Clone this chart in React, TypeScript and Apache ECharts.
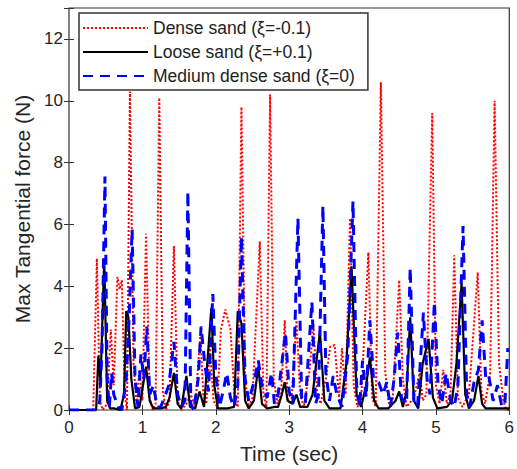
import React, { useEffect, useRef } from "react";
import * as echarts from "echarts";

const seriesNames = ["Dense sand (ξ=-0.1)", "Loose sand (ξ=+0.1)", "Medium dense sand (ξ=0)"];
const yTicks = [0, 2, 4, 6, 8, 10, 12];

const denseT = [0, 0.33, 0.38, 0.42, 0.46, 0.52, 0.57, 0.61, 0.66, 0.69, 0.72, 0.76, 0.79, 0.83, 0.88, 0.92, 0.96, 1.0, 1.05, 1.1, 1.14, 1.18, 1.23, 1.28, 1.32, 1.37, 1.43, 1.48, 1.53, 1.6, 1.66, 1.72, 1.79, 1.83, 1.87, 1.92, 1.97, 2.02, 2.07, 2.13, 2.2, 2.26, 2.3, 2.35, 2.4, 2.45, 2.5, 2.6, 2.65, 2.69, 2.74, 2.79, 2.84, 2.89, 2.94, 2.98, 3.03, 3.1, 3.15, 3.2, 3.28, 3.33, 3.38, 3.43, 3.5, 3.56, 3.62, 3.68, 3.72, 3.77, 3.83, 3.88, 3.93, 3.98, 4.08, 4.13, 4.18, 4.25, 4.31, 4.36, 4.41, 4.5, 4.55, 4.6, 4.7, 4.78, 4.82, 4.87, 4.95, 5.0, 5.05, 5.1, 5.15, 5.2, 5.25, 5.3, 5.36, 5.45, 5.57, 5.62, 5.67, 5.74, 5.8, 5.86, 5.92, 5.96, 6.0];
const denseF = [0, 0, 4.9, 0.3, 0, 0.2, 2.6, 0.8, 4.3, 3.9, 4.2, 0.5, 0, 10.3, 1.5, 0.2, 1.3, 0.3, 5.7, 0.4, 0, 0.2, 10.1, 0.6, 0, 0.3, 5.3, 0.3, 0, 0.2, 0.5, 0.1, 2.45, 0.5, 0.2, 2.0, 0.3, 0.1, 2.6, 3.25, 2.6, 0.3, 0.1, 9.8, 1.0, 0.1, 0.4, 5.45, 0.5, 0.1, 10.2, 1.0, 0.2, 0.5, 2.9, 0.3, 0.2, 2.9, 0.5, 0.1, 1.3, 2.8, 0.6, 0.2, 1.0, 2.05, 2.1, 0.4, 2.0, 0.5, 6.2, 0.8, 0.1, 0.3, 5.1, 0.4, 0.1, 10.6, 1.2, 0.2, 0.3, 4.2, 1.0, 0.1, 0.4, 1.2, 0.3, 0.5, 9.6, 0.8, 0.2, 1.3, 0.2, 0.5, 5.0, 0.4, 0.1, 0.5, 4.45, 0.6, 0.2, 1.2, 10.0, 1.5, 0.3, 0, 0];

const looseT = [0, 0.37, 0.4, 0.43, 0.48, 0.52, 0.56, 0.62, 0.7, 0.75, 0.78, 0.81, 0.85, 0.9, 0.96, 1.05, 1.1, 1.15, 1.25, 1.32, 1.37, 1.43, 1.48, 1.53, 1.6, 1.65, 1.72, 1.78, 1.84, 1.9, 1.94, 1.98, 2.03, 2.15, 2.25, 2.3, 2.35, 2.4, 2.45, 2.52, 2.58, 2.63, 2.7, 2.8, 2.85, 2.9, 2.94, 2.98, 3.05, 3.1, 3.15, 3.25, 3.32, 3.42, 3.48, 3.55, 3.7, 3.78, 3.85, 3.92, 3.98, 4.05, 4.1, 4.16, 4.22, 4.35, 4.45, 4.5, 4.55, 4.6, 4.65, 4.7, 4.76, 4.82, 4.9, 4.96, 5.02, 5.15, 5.22, 5.28, 5.35, 5.4, 5.45, 5.52, 5.58, 5.63, 5.68, 6.0];
const looseF = [0, 0, 1.75, 0.9, 4.9, 0.3, 0.05, 0.05, 0, 0.5, 3.2, 3.0, 1.0, 0.05, 0.1, 1.4, 0.3, 0.05, 0.05, 0.1, 0.4, 1.2, 0.2, 0.05, 1.1, 0.1, 0.05, 0.6, 0.1, 2.0, 3.3, 0.8, 0.05, 0.05, 0.1, 3.2, 2.8, 0.3, 0.05, 0.3, 1.4, 0.2, 0.05, 0.1, 0.1, 0.5, 0.9, 0.3, 0.2, 0.5, 0.1, 0.1, 0.5, 2.55, 0.3, 0.05, 0.05, 1.5, 4.65, 0.5, 0.1, 0.8, 1.7, 0.3, 0.05, 0.05, 0.3, 0.6, 0.1, 0.6, 3.0, 0.3, 0.05, 1.5, 2.3, 0.4, 0.05, 0.1, 0.3, 1.5, 4.1, 0.5, 0.05, 0.3, 1.1, 0.2, 0.05, 0.05];

const mediumT = [0, 0.38, 0.42, 0.45, 0.49, 0.52, 0.55, 0.58, 0.61, 0.64, 0.67, 0.72, 0.78, 0.82, 0.86, 0.9, 0.94, 0.98, 1.02, 1.06, 1.1, 1.15, 1.2, 1.25, 1.3, 1.36, 1.43, 1.48, 1.53, 1.58, 1.62, 1.66, 1.7, 1.76, 1.8, 1.85, 1.9, 1.96, 2.0, 2.05, 2.1, 2.15, 2.2, 2.25, 2.3, 2.35, 2.4, 2.45, 2.52, 2.58, 2.63, 2.7, 2.76, 2.8, 2.85, 2.9, 2.95, 3.0, 3.05, 3.12, 3.17, 3.22, 3.31, 3.36, 3.4, 3.46, 3.5, 3.55, 3.6, 3.65, 3.72, 3.8, 3.87, 3.92, 3.96, 4.0, 4.05, 4.1, 4.15, 4.22, 4.28, 4.33, 4.38, 4.43, 4.48, 4.53, 4.6, 4.65, 4.7, 4.75, 4.83, 4.88, 4.92, 4.98, 5.03, 5.08, 5.14, 5.2, 5.25, 5.3, 5.37, 5.42, 5.46, 5.52, 5.58, 5.63, 5.68, 5.72, 5.78, 5.84, 5.9, 5.94, 5.98];
const mediumF = [0, 0, 0.3, 2.0, 7.55, 1.0, 0.1, 1.2, 0.5, 0.3, 0.1, 0, 1.0, 3.0, 5.85, 1.0, 0.1, 1.8, 1.0, 2.7, 0.5, 0.8, 0.1, 0.1, 0.4, 0.8, 2.2, 0.5, 0.1, 0.3, 7.07, 0.2, 0, 1.0, 2.7, 1.5, 0.6, 3.75, 1.2, 0.1, 0.6, 1.2, 0.4, 0.1, 0.8, 5.6, 1.0, 0.3, 0.9, 1.6, 0.8, 0.4, 1.2, 0.2, 0.5, 1.5, 2.5, 0.6, 0.2, 6.2, 0.4, 0.2, 3.5, 0.2, 0.5, 6.6, 1.2, 0.3, 1.1, 0.5, 0.1, 1.8, 6.75, 0.8, 0.1, 1.6, 0.4, 2.9, 1.0, 0.9, 0.5, 0.9, 0.1, 1.0, 2.5, 0.4, 0.2, 4.6, 0.3, 0.1, 3.15, 1.0, 0.5, 3.5, 0.8, 0.2, 1.2, 0.3, 0.1, 0.8, 5.95, 0.5, 0.1, 0.9, 1.3, 2.9, 1.0, 1.1, 0.3, 0.8, 0.1, 0.2, 2.0];

const zip = (t: number[], f: number[]) => t.map((v, i) => [v, f[i]]);

const FONT = "'Liberation Sans', Arial, sans-serif";
const TXT = "#262626";

export default function App() {
  const ref = useRef<HTMLDivElement>(null);
  useEffect(() => {
    if (!ref.current) return;
    const chart = echarts.init(ref.current, null, { renderer: "svg" });
    const tickAxisCommon = {
      axisTick: { show: true, inside: true, length: 5, lineStyle: { color: "#333", width: 1 } },
      splitLine: { show: false },
      axisLine: { show: false },
    };
    chart.setOption({
      animation: false,
      backgroundColor: "#fff",
      textStyle: { fontFamily: FONT },
      grid: { left: 69, right: 6, top: 8, bottom: 58, show: true, borderColor: "#333", borderWidth: 1.2, backgroundColor: "transparent" },
      legend: {
        orient: "vertical",
        left: 79,
        top: 13,
        data: seriesNames,
        itemWidth: 65,
        itemHeight: 14,
        itemGap: 6,
        padding: [6, 13, 5, 3],
        backgroundColor: "#fff",
        borderColor: "#333",
        borderWidth: 1.5,
        itemStyle: { opacity: 0, borderWidth: 0 },
        textStyle: { fontFamily: FONT, fontSize: 17.5, color: "#222", lineHeight: 18 },
      },
      xAxis: [
        {
          type: "value",
          min: 0,
          max: 6,
          interval: 1,
          position: "bottom",
          name: "Time (sec)",
          nameLocation: "middle",
          nameGap: 33,
          nameTextStyle: { fontFamily: FONT, fontSize: 21, color: TXT },
          axisLabel: { fontFamily: FONT, fontSize: 17, color: TXT, margin: 9 },
          ...tickAxisCommon,
        },
        {
          type: "value",
          min: 0,
          max: 6,
          interval: 1,
          position: "top",
          axisLabel: { show: false },
          ...tickAxisCommon,
        },
      ],
      yAxis: [
        {
          type: "value",
          min: 0,
          max: 13,
          interval: 2,
          name: "Max Tangential force (N)",
          nameLocation: "middle",
          nameGap: 25,
          nameTextStyle: { fontFamily: FONT, fontSize: 21, color: TXT },
          axisLabel: {
            fontFamily: FONT,
            fontSize: 17,
            color: TXT,
            margin: 6,
            formatter: (v: number) => (yTicks.includes(v) ? String(v) : ""),
          },
          ...tickAxisCommon,
        },
        {
          type: "value",
          min: 0,
          max: 13,
          interval: 2,
          position: "right",
          axisLabel: { show: false },
          ...tickAxisCommon,
        },
      ],
      series: [
        {
          name: seriesNames[0],
          type: "line",
          data: zip(denseT, denseF),
          symbol: "none",
          lineStyle: { color: "#ff0000", width: 2, type: [2, 2] },
          itemStyle: { color: "#ff0000" },
        },
        {
          name: seriesNames[1],
          type: "line",
          data: zip(looseT, looseF),
          symbol: "none",
          lineStyle: { color: "#000000", width: 2.2, type: "solid" },
          itemStyle: { color: "#000000" },
        },
        {
          name: seriesNames[2],
          type: "line",
          data: zip(mediumT, mediumF),
          symbol: "none",
          lineStyle: { color: "#0000ff", width: 3, type: [10, 7] },
          itemStyle: { color: "#0000ff" },
        },
      ],
    });
    return () => chart.dispose();
  }, []);
  return (
    <div
      ref={ref}
      style={{ position: "fixed", left: 0, top: 0, width: 517, height: 469, background: "#fff" }}
    />
  );
}
